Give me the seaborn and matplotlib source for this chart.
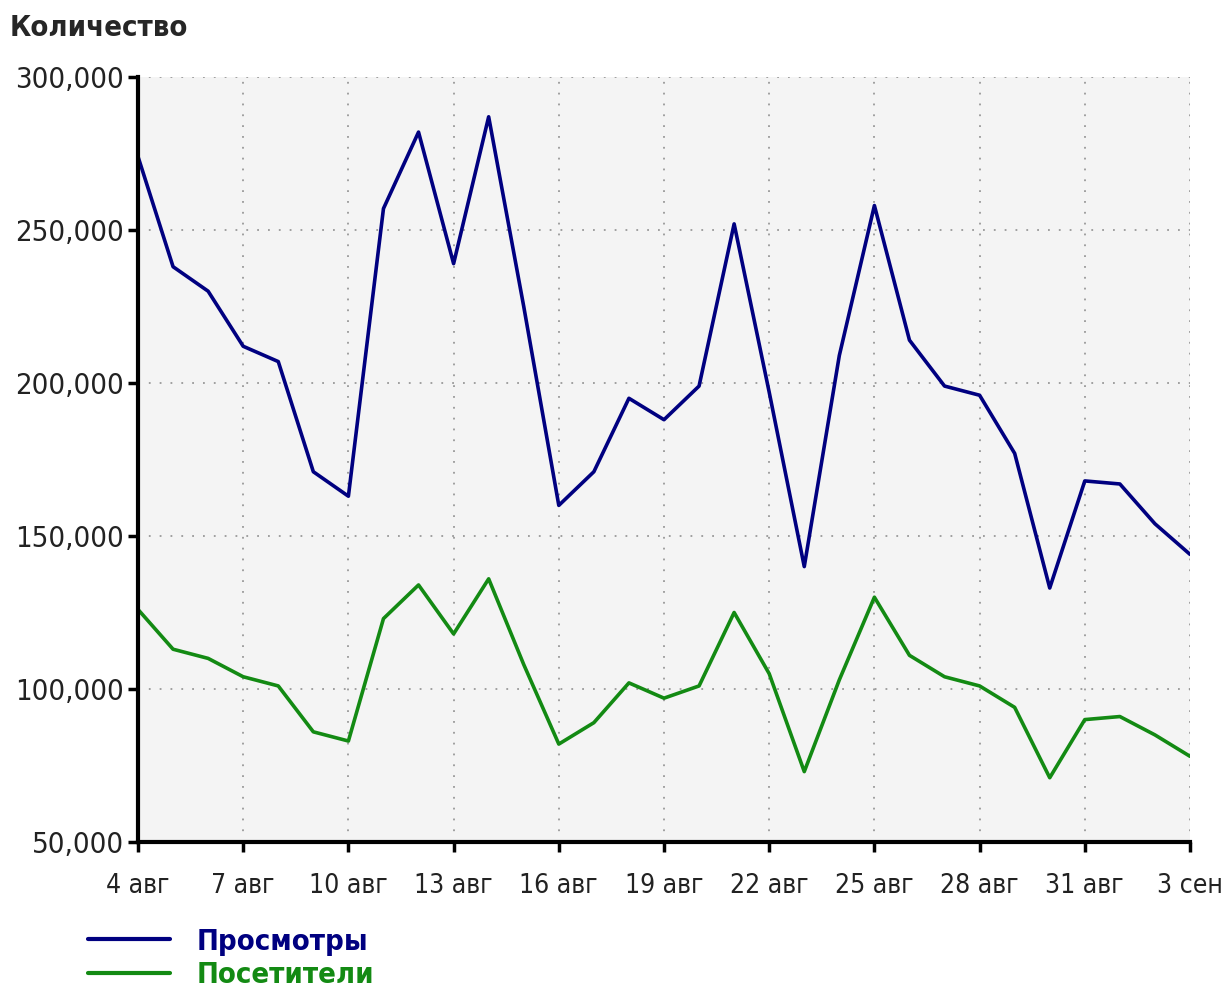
import numpy as np
import pandas as pd
import matplotlib
matplotlib.use("Agg")
import matplotlib.pyplot as plt
import matplotlib.ticker as mticker
import seaborn as sns

# daily values, 4 Aug .. 3 Sep
days = list(range(31))
views = [274000, 238000, 230000, 212000, 207000, 171000, 163000, 257000, 282000, 239000,
         287000, 225000, 160000, 171000, 195000, 188000, 199000, 252000, 197000, 140000,
         209000, 258000, 214000, 199000, 196000, 177000, 133000, 168000, 167000, 154000,
         144000]
visitors = [126000, 113000, 110000, 104000, 101000, 86000, 83000, 123000, 134000, 118000,
            136000, 108000, 82000, 89000, 102000, 97000, 101000, 125000, 105000, 73000,
            103000, 130000, 111000, 104000, 101000, 94000, 71000, 90000, 91000, 85000,
            78000]
tick_pos = list(range(0, 31, 3))
tick_labels = ["4 авг", "7 авг", "10 авг", "13 авг", "16 авг", "19 авг", "22 авг",
               "25 авг", "28 авг", "31 авг", "3 сен"]
series_names = ["Просмотры", "Посетители"]
colors = ["#000080", "#138a13"]

df = pd.DataFrame({
    "day": days * 2,
    "value": views + visitors,
    "series": [series_names[0]] * len(days) + [series_names[1]] * len(days),
})

sns.set_style("ticks")
plt.rcParams["font.family"] = ["DejaVu Sans"]
plt.rcParams["font.stretch"] = "condensed"

fig = plt.figure(figsize=(12.27, 9.9), dpi=100)
ax = fig.add_axes([138 / 1227, 1 - 842 / 990, (1190 - 138) / 1227, (842 - 77) / 990])
ax.set_facecolor("#f4f4f4")

sns.lineplot(data=df, x="day", y="value", hue="series", palette=colors,
             linewidth=2.6, ax=ax, legend=False)

ax.set_xlim(0, 30)
ax.set_ylim(50000, 300000)
ax.set_xticks(tick_pos)
ax.set_xticklabels(tick_labels)
ax.set_yticks(range(50000, 300001, 50000))
ax.yaxis.set_major_formatter(mticker.FuncFormatter(lambda v, p: f"{int(v):,}"))
ax.set_xlabel("")
ax.set_ylabel("")

ax.grid(True, color="#999999", linestyle=(0, (1, 5)), linewidth=1.3)
for s in ["top", "right"]:
    ax.spines[s].set_visible(False)
for s in ["left", "bottom"]:
    ax.spines[s].set_linewidth(3)
    ax.spines[s].set_color("black")
ax.tick_params(axis="both", length=7, width=2.5, colors="black", pad=3)
ax.tick_params(axis="y", labelsize=21)
ax.tick_params(axis="x", labelsize=19, pad=15)
for lbl in ax.get_xticklabels() + ax.get_yticklabels():
    lbl.set_color("#222222")
    lbl.set_fontstretch("condensed")

fig.text(0.008, 0.972, "Количество", fontsize=21, fontweight="bold",
         fontstretch="condensed", va="center", ha="left")

handles = [plt.Line2D([], [], color=c, linewidth=3) for c in colors]
leg = fig.legend(handles, series_names, loc="upper left", bbox_to_anchor=(0.072, 0.063),
                 frameon=False, handlelength=2.8, handletextpad=0.9, labelspacing=0.2,
                 prop={"size": 21, "weight": "bold", "stretch": "condensed"},
                 borderaxespad=0, borderpad=0)
for t, c in zip(leg.get_texts(), colors):
    t.set_color(c)

fig.savefig("out.png", dpi=100, facecolor="white")
